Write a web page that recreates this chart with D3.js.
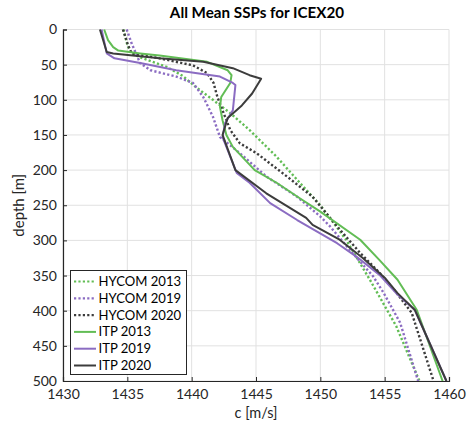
<!DOCTYPE html>
<html>
<head>
<meta charset="utf-8">
<script src="https://cdn.jsdelivr.net/npm/d3@7"></script>
<style>
  html, body { margin: 0; padding: 0; background: #fff; }
  svg { display: block; font-family: Lato, "Open Sans", sans-serif; }
</style>
</head>
<body>
<svg id="chart" width="470" height="426"></svg>
<script>
// ---- data (sound speed c [m/s] vs depth [m]) ----
const seriesNames = ["HYCOM 2013", "HYCOM 2019", "HYCOM 2020", "ITP 2013", "ITP 2019", "ITP 2020"];

const hycom2013Depth = [0, 22, 34, 41, 53, 66, 83, 100, 119, 143, 181, 218, 250, 299, 356, 422, 500];
const hycom2013C     = [1434.7, 1435.0, 1435.3, 1436.2, 1438.05, 1439.3, 1440.4, 1441.65, 1443.0, 1444.5, 1446.6, 1448.4, 1450.0, 1452.0, 1453.85, 1455.9, 1457.7];

const hycom2019Depth = [0, 20, 48, 58, 67, 76, 96, 124, 153, 176, 209, 238, 266, 280, 318, 351, 374, 417, 500];
const hycom2019C     = [1434.95, 1435.34, 1436.0, 1436.8, 1438.8, 1440.1, 1440.9, 1441.65, 1442.2, 1443.75, 1445.8, 1448.2, 1450.0, 1450.75, 1452.5, 1454.1, 1454.9, 1456.2, 1457.6];

const hycom2020Depth = [0, 22, 34, 41, 51, 62, 76, 96, 115, 143, 162, 176, 209, 238, 280, 318, 346, 374, 403, 500];
const hycom2020C     = [1434.66, 1435.05, 1435.34, 1437.5, 1440.1, 1441.2, 1441.7, 1442.0, 1442.4, 1443.0, 1443.75, 1445.05, 1447.4, 1449.4, 1451.3, 1453.1, 1454.6, 1455.9, 1457.1, 1458.8];

const itp2013Depth = [0, 15, 25, 30, 34, 37, 46, 58, 65, 76, 96, 110, 129, 150, 167, 200, 218, 240, 259, 299, 328, 356, 399, 500];
const itp2013C     = [1433.2, 1433.5, 1433.9, 1434.3, 1436.0, 1437.5, 1441.2, 1442.8, 1443.1, 1443.0, 1442.3, 1442.2, 1442.4, 1442.7, 1443.2, 1444.9, 1446.6, 1448.4, 1450.0, 1453.1, 1454.6, 1456.0, 1457.5, 1459.5];

const itp2019Depth = [0, 34, 41, 48, 58, 67, 76, 79, 115, 133, 153, 204, 218, 247, 271, 304, 323, 349, 377, 399, 500];
const itp2019C     = [1433.0, 1433.4, 1434.0, 1436.1, 1438.8, 1442.2, 1443.2, 1443.4, 1443.2, 1442.6, 1442.4, 1443.5, 1444.5, 1446.1, 1448.2, 1451.3, 1452.8, 1454.6, 1456.0, 1457.35, 1459.8];

const itp2020Depth = [0, 32, 34, 41, 46, 55, 65, 70, 91, 108, 126, 150, 200, 233, 268, 278, 299, 325, 353, 375, 399, 500];
const itp2020C     = [1432.87, 1433.4, 1433.9, 1437.5, 1440.9, 1443.2, 1444.5, 1445.4, 1444.7, 1443.9, 1442.8, 1442.4, 1443.4, 1445.8, 1448.9, 1449.4, 1451.5, 1453.3, 1455.0, 1456.0, 1457.35, 1459.8];

const xTicks = [1430, 1435, 1440, 1445, 1450, 1455, 1460];
const yTicks = [0, 50, 100, 150, 200, 250, 300, 350, 400, 450, 500];

const titleText = "All Mean SSPs for ICEX20";
const xLabel = "c [m/s]";
const yLabel = "depth [m]";

// ---- build series ----
const zip = (d, c) => d.map((v, i) => ({depth: v, c: c[i]}));
const series = [
  {name: seriesNames[0], pts: zip(hycom2013Depth, hycom2013C), color: "#62bd55", dotted: true},
  {name: seriesNames[1], pts: zip(hycom2019Depth, hycom2019C), color: "#8b6cc2", dotted: true},
  {name: seriesNames[2], pts: zip(hycom2020Depth, hycom2020C), color: "#3c3c3c", dotted: true},
  {name: seriesNames[3], pts: zip(itp2013Depth, itp2013C), color: "#62bd55", dotted: false},
  {name: seriesNames[4], pts: zip(itp2019Depth, itp2019C), color: "#8b6cc2", dotted: false},
  {name: seriesNames[5], pts: zip(itp2020Depth, itp2020C), color: "#3c3c3c", dotted: false}
];

// ---- layout ----
const svg = d3.select("#chart");
const pL = 63, pR = 449, pT = 29.5, pB = 381;
const x = d3.scaleLinear().domain([1430, 1460]).range([pL, pR]);
const y = d3.scaleLinear().domain([0, 500]).range([pT, pB]);

// grid
const grid = svg.append("g");
grid.selectAll("line.gx").data(xTicks).join("line").attr("class", "gx")
  .attr("x1", d => x(d)).attr("x2", d => x(d)).attr("y1", pT).attr("y2", pB)
  .attr("stroke", "#e1e1e1").attr("stroke-width", 1);
grid.selectAll("line.gy").data(yTicks).join("line").attr("class", "gy")
  .attr("y1", d => y(d)).attr("y2", d => y(d)).attr("x1", pL).attr("x2", pR)
  .attr("stroke", "#e1e1e1").attr("stroke-width", 1);

// lines
const dotDash = "2.2,2.2";
const line = d3.line().x(d => x(d.c)).y(d => y(d.depth));
svg.append("g").selectAll("path").data(series).join("path")
  .attr("d", d => line(d.pts))
  .attr("fill", "none")
  .attr("stroke", d => d.color)
  .attr("stroke-width", d => d.dotted ? 2.4 : 2)
  .attr("stroke-dasharray", d => d.dotted ? dotDash : null)
  .attr("stroke-linejoin", "round");

// axes
const xAxis = d3.axisBottom(x).tickValues(xTicks).tickSize(-4).tickPadding(8).tickFormat(d3.format("d"));
const yAxis = d3.axisLeft(y).tickValues(yTicks).tickSize(-4).tickPadding(6).tickFormat(d3.format("d"));
const gx = svg.append("g").attr("transform", `translate(0,${pB})`).call(xAxis);
const gy = svg.append("g").attr("transform", `translate(${pL},0)`).call(yAxis);
[gx, gy].forEach(g => {
  g.select(".domain").attr("stroke", "#262626").attr("stroke-width", 1.2);
  g.selectAll(".tick line").attr("stroke", "#262626");
  g.selectAll(".tick text").attr("fill", "#262626").style("font-size", "14px").style("font-family", "Lato, sans-serif");
});

// titles
svg.append("text").attr("x", 257).attr("y", 18).attr("text-anchor", "middle")
  .style("font-size", "15.2px").style("font-weight", "bold").attr("fill", "#000").text(titleText);
svg.append("text").attr("x", 256).attr("y", 418).attr("text-anchor", "middle")
  .style("font-size", "14.5px").attr("fill", "#262626").text(xLabel);
svg.append("text").attr("transform", `translate(24,${(pT + pB) / 2}) rotate(-90)`).attr("text-anchor", "middle")
  .style("font-size", "15px").attr("fill", "#262626").text(yLabel);

// legend
const lg = svg.append("g");
lg.append("rect").attr("x", 70.5).attr("y", 270.5).attr("width", 116).attr("height", 104)
  .attr("fill", "#fff").attr("stroke", "#262626").attr("stroke-width", 1);
const rowY = i => 281.5 + i * 16.8;
lg.selectAll("line").data(series).join("line")
  .attr("x1", 74).attr("x2", 96).attr("y1", (d, i) => rowY(i)).attr("y2", (d, i) => rowY(i))
  .attr("stroke", d => d.color)
  .attr("stroke-width", d => d.dotted ? 2.2 : 2)
  .attr("stroke-dasharray", d => d.dotted ? dotDash : null);
lg.selectAll("text").data(series).join("text")
  .attr("x", 98.5).attr("y", (d, i) => rowY(i)).attr("dy", "0.35em")
  .style("font-size", "13.1px").attr("fill", "#000").text(d => d.name);
</script>
</body>
</html>
